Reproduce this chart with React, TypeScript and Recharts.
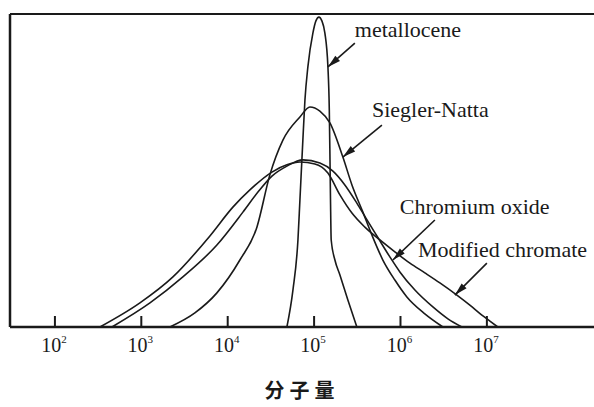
import React from 'react';
import { LineChart, Line, XAxis, YAxis, ReferenceLine } from 'recharts';

// x = log10(molecular weight), y = relative amount (0..100)
const decades = [2, 3, 4, 5, 6, 7];
const xMin = 1.48;
const xMax = 8.24;

const metallocene: [number, number][] = [
  [4.685, 0], [4.755, 11.8], [4.813, 27.8], [4.836, 40.6], [4.87, 59.7], [4.894, 72.5],
  [4.928, 83.1], [4.986, 93.9], [5.021, 97.8], [5.056, 99.0], [5.09, 97.8], [5.125, 93.9],
  [5.16, 83.1], [5.176, 69.3], [5.184, 53.4], [5.19, 40.6], [5.198, 27.8], [5.241, 21.4],
  [5.299, 16.6], [5.391, 8.6], [5.495, 0],
];

const sieglerNatta: [number, number][] = [
  [3.331, 0], [3.62, 4.5], [3.875, 10.9], [4.141, 21.4], [4.338, 31.9], [4.488, 48.6],
  [4.639, 59.7], [4.836, 67.1], [4.951, 70.3], [5.067, 69.0], [5.183, 65.2], [5.333, 54.3],
  [5.438, 45.4], [5.565, 36.7], [5.669, 29.4], [5.796, 21.4], [5.935, 15.0], [6.074, 9.6],
  [6.282, 4.2], [6.491, 0],
];

const chromiumOxide: [number, number][] = [
  [2.66, 0], [3.1, 7.7], [3.481, 16.0], [3.875, 26.2], [4.176, 36.7], [4.35, 43.1],
  [4.512, 48.2], [4.685, 51.4], [4.87, 53.4], [5.067, 52.4], [5.218, 49.8], [5.356, 45.4],
  [5.495, 39.6], [5.6, 34.8], [5.727, 29.1], [5.877, 22.4], [5.993, 17.6], [6.167, 11.8],
  [6.375, 6.4], [6.549, 2.6], [6.711, 0],
];

const modifiedChromate: [number, number][] = [
  [2.521, 0], [2.984, 7.7], [3.366, 16.0], [3.794, 29.1], [4.06, 38.3], [4.257, 43.8],
  [4.512, 49.5], [4.685, 51.8], [4.836, 52.7], [5.009, 52.1], [5.16, 49.2],
  [5.299, 42.2], [5.438, 36.4], [5.588, 31.9], [5.762, 27.8], [5.935, 24.0], [6.109, 20.4],
  [6.282, 17.3], [6.456, 14.1], [6.653, 10.2], [6.803, 7.0], [6.942, 3.8], [7.035, 1.9],
  [7.127, 0],
];

const seriesNames = ['metallocene', 'Siegler-Natta', 'Chromium oxide', 'Modified chromate'];
const seriesData = [metallocene, sieglerNatta, chromiumOxide, modifiedChromate];

// arrow tail (near the label) and tip (on the curve), in data units
const arrowTails: [number, number][] = [[5.472, 90.7], [5.785, 64.5], [6.398, 34.2], [7.0, 20.4]];
const arrowTips: [number, number][] = [[5.16, 83.1], [5.333, 54.3], [5.912, 21.4], [6.63, 10.2]];
// label offset from the tail, px
const labelOffsets = [[0, -6], [-10, -8], [-35, -6], [-69, -6]];

const ink = '#1a1a1a';
const serif = '"Liberation Serif", "DejaVu Serif", serif';

const toPoints = (arr: [number, number][]) => arr.map(([x, y]) => ({ x, y }));

// tick lines point inward (tickSize -11), so the label sits 36px under the tick end
const DecadeTick = (props: any) => {
  const { x, y, payload } = props;
  return (
    <text x={x - 1} y={y + 36} textAnchor="middle" fontFamily={serif} fontSize={20} fill={ink}>
      <tspan>10</tspan>
      <tspan dy={-9} fontSize={11}>{payload.value}</tspan>
    </text>
  );
};

const arrowShape = (label: string, off: number[]) => (props: any) => {
  const { x1, y1, x2, y2 } = props;
  const ang = Math.atan2(y2 - y1, x2 - x1);
  const len = 13;
  const hw = 3.5;
  const bx = x2 - len * Math.cos(ang);
  const by = y2 - len * Math.sin(ang);
  const px = -Math.sin(ang) * hw;
  const py = Math.cos(ang) * hw;
  return (
    <g>
      <line x1={x1} y1={y1} x2={x2} y2={y2} stroke={ink} strokeWidth={1.6} />
      <polygon points={`${x2},${y2} ${bx + px},${by + py} ${bx - px},${by - py}`} fill={ink} />
      <text x={x1 + off[0]} y={y1 + off[1]} fontFamily={serif} fontSize={22} fill={ink}>
        {label}
      </text>
    </g>
  );
};

export default function App() {
  return (
    <div style={{ position: 'absolute', left: 0, top: 0, width: 594, height: 407, background: '#fff' }}>
      <LineChart width={594} height={407} margin={{ top: 14, right: 0, left: 10, bottom: 0 }}>
        <XAxis
          type="number"
          dataKey="x"
          domain={[xMin, xMax]}
          ticks={decades}
          allowDataOverflow
          height={80}
          tickSize={-11}
          tickMargin={0}
          tickLine={{ stroke: ink, strokeWidth: 2 }}
          tick={<DecadeTick />}
          axisLine={{ stroke: ink, strokeWidth: 2.5 }}
          label={{
            value: '分子量',
            position: 'insideBottom',
            offset: 9,
            style: { fontFamily: '"Noto Sans CJK SC", sans-serif', fontSize: 20, fontWeight: 700, letterSpacing: 5, fill: ink },
          }}
        />
        <YAxis type="number" domain={[0, 100]} hide />
        <ReferenceLine y={100} stroke={ink} strokeWidth={2} />
        <ReferenceLine x={xMin} stroke={ink} strokeWidth={2.5} />
        {seriesData.map((d, i) => (
          <Line
            key={seriesNames[i]}
            data={toPoints(d)}
            dataKey="y"
            type="monotone"
            stroke={ink}
            strokeWidth={1.6}
            dot={false}
            isAnimationActive={false}
          />
        ))}
        {seriesNames.map((name, i) => (
          <ReferenceLine
            key={'arrow-' + name}
            segment={[
              { x: arrowTails[i][0], y: arrowTails[i][1] },
              { x: arrowTips[i][0], y: arrowTips[i][1] },
            ]}
            shape={arrowShape(name, labelOffsets[i])}
          />
        ))}
      </LineChart>
    </div>
  );
}
